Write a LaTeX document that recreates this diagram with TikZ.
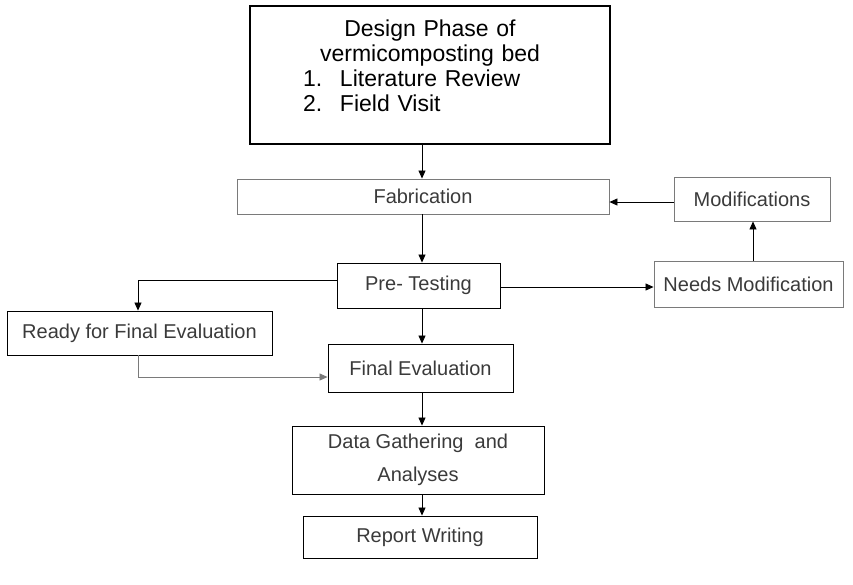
\documentclass[tikz,border=0pt]{standalone}
\usepackage{fontspec}
\setmainfont{Liberation Sans}
\usetikzlibrary{arrows.meta}
\definecolor{txtgray}{HTML}{3A3A3A}
\definecolor{boxgray}{HTML}{7A7A7A}
\tikzset{
  box/.style={draw=black, line width=0.9pt, rectangle, inner sep=0pt, align=center, text=txtgray, font=\fontsize{20}{33}\selectfont},
  lightbox/.style={box, draw=boxgray},
  arr/.style={-{Triangle[length=8pt,width=7pt]}, line width=0.8pt, black},
}
\begin{document}
\begin{tikzpicture}[x=1pt,y=-1pt]
\useasboundingbox (0,0) rectangle (853,584);
\node[box, line width=1.1pt, minimum width=360pt, minimum height=138pt] (design) at (430,75) {};
\node[inner sep=0pt, text=black, text width=360pt, align=left, font=\fontsize{23}{25}\selectfont] (designtext) at (430,66)
  {\makebox[360pt][c]{Design Phase of}\\
   \makebox[360pt][c]{vermicomposting bed}\\
   \hspace*{53pt}\makebox[37pt][l]{1.}Literature Review\\
   \hspace*{53pt}\makebox[37pt][l]{2.}Field Visit};
\node[lightbox, minimum width=372pt, minimum height=35pt] (fab) at (423,196.5) {Fabrication};
\node[lightbox, minimum width=156pt, minimum height=44pt] (mods) at (752,199) {Modifications};
\node[box, minimum width=163pt, minimum height=45pt] (pre) at (418.5,285.5) {Pre- Testing};
\node[lightbox, minimum width=189pt, minimum height=46pt] (needs) at (748.5,284) {Needs Modification};
\node[box, minimum width=265pt, minimum height=44pt] (ready) at (139.5,333) {Ready for Final Evaluation};
\node[box, minimum width=185pt, minimum height=48pt] (final) at (420.5,368) {Final Evaluation};
\node[box, minimum width=252pt, minimum height=68pt] (data) at (418,460) {Data Gathering\ \ and\\Analyses};
\node[box, minimum width=234pt, minimum height=42pt] (report) at (420,537) {Report Writing};

\draw[arr] (422,0 |- design.south) -- (422,0 |- fab.north);
\draw[arr] (422,0 |- fab.south) -- (422,0 |- pre.north);
\draw[arr] (422,0 |- pre.south) -- (422,0 |- final.north);
\draw[arr] (422,0 |- final.south) -- (422,0 |- data.north);
\draw[arr] (422,0 |- data.south) -- (422,0 |- report.north);
\draw[arr] (pre.east |- 0,287) -- (needs.west |- 0,287);
\draw[arr] (753,0 |- needs.north) -- (753,0 |- mods.south);
\draw[arr] (mods.west |- 0,202) -- (fab.east |- 0,202);
\draw[arr] (pre.west |- 0,280) -- (138,280) -- (138,0 |- ready.north);
\draw[arr, draw=boxgray] (138,0 |- ready.south) -- (138,377) -- (final.west |- 0,377);
\end{tikzpicture}
\end{document}
